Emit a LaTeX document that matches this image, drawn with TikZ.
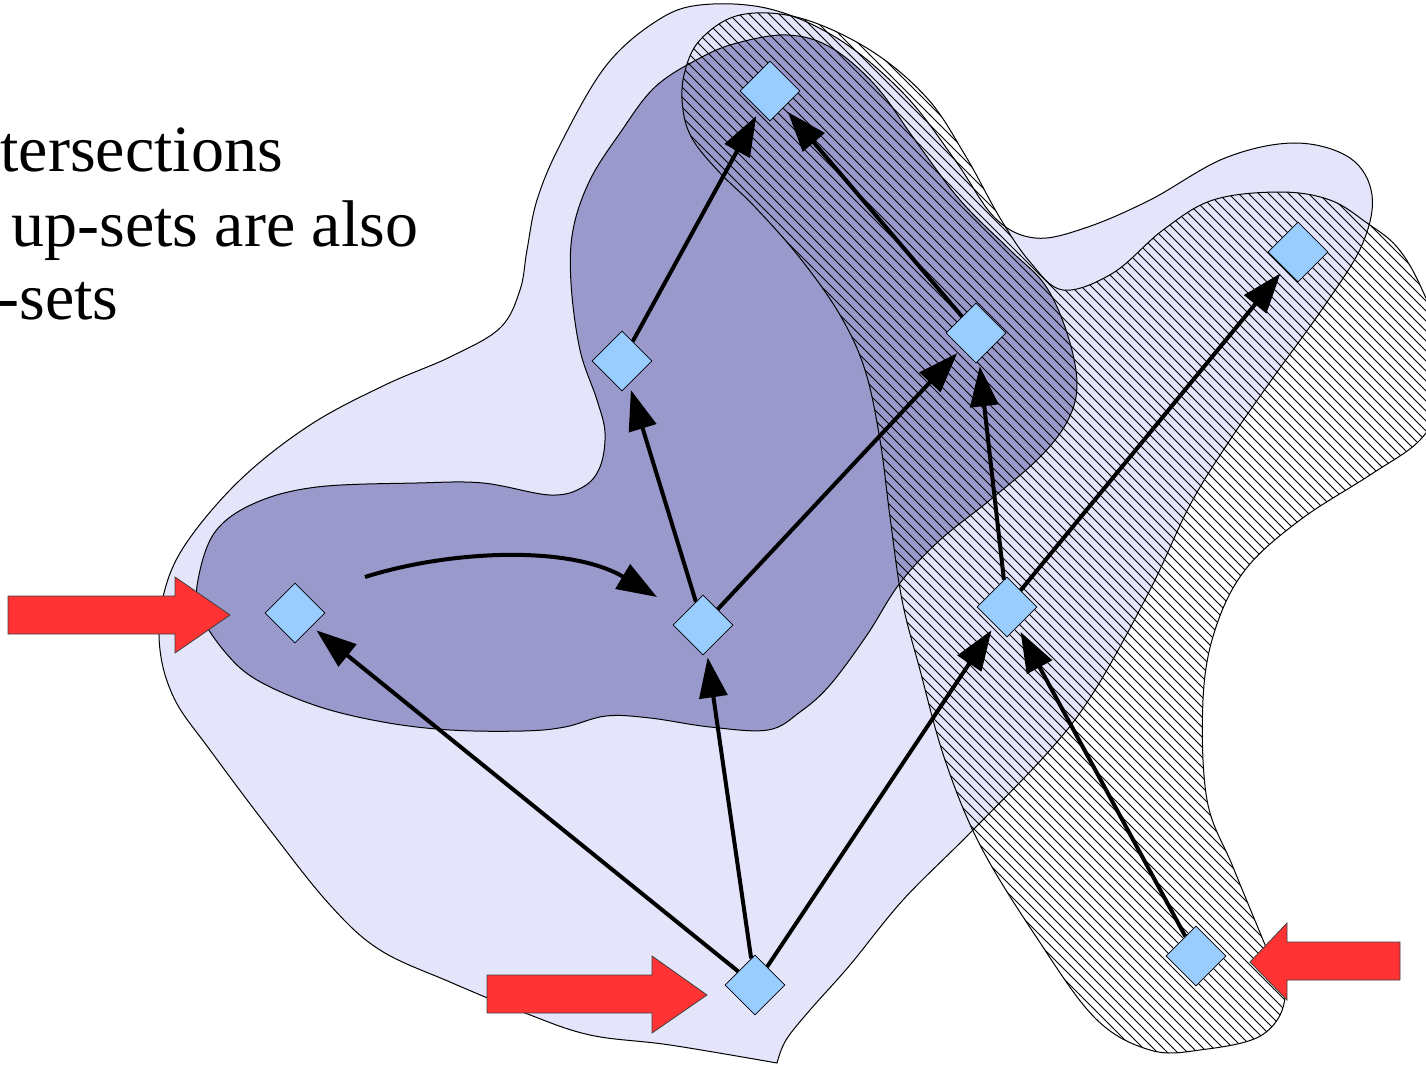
\documentclass[tikz,border=0pt]{standalone}
\usepackage{fontspec}
\setmainfont{Liberation Serif}
\usetikzlibrary{arrows.meta,shapes.geometric,patterns}
\definecolor{lav}{HTML}{E4E4FA}
\definecolor{darkset}{HTML}{9999CC}
\definecolor{nodeblue}{HTML}{99CCFF}
\definecolor{redarr}{HTML}{FF3333}
\pgfdeclarepatternformonly{myhatch}{\pgfqpoint{-1pt}{-1pt}}{\pgfqpoint{6pt}{6pt}}{\pgfqpoint{5pt}{5pt}}{%
  \pgfsetlinewidth{0.4pt}%
  \pgfpathmoveto{\pgfqpoint{0pt}{5pt}}%
  \pgfpathlineto{\pgfqpoint{5.1pt}{-0.1pt}}%
  \pgfusepath{stroke}}
\begin{document}
\begin{tikzpicture}[x=0.5pt,y=-0.5pt,
  blobL/.style={fill=lav, draw=black, line width=0.5pt},
  blobD/.style={fill=darkset, draw=black, line width=0.5pt},
  hatch/.style={pattern=myhatch, draw=black, line width=0.5pt},
  elem/.style={diamond, aspect=1, minimum width=30pt, minimum height=30pt, inner sep=0pt, fill=nodeblue, draw=black, line width=0.4pt},
  edge/.style={line width=2pt, -{Triangle[length=20pt,width=14pt]}, shorten >=3pt},
  redblk/.style={fill=redarr, draw=black!75, line width=0.4pt},
  caption/.style={font=\fontsize{33pt}{38pt}\selectfont, anchor=base west, inner sep=0pt}]
\useasboundingbox (0,0) rectangle (1426,1065);
\clip (0,0) rectangle (1426,1065);

% outer light up-set
\draw[blobL] plot[smooth, tension=0.6] coordinates {
 (777,1063) (786,1040) (810,1010) (850,965)
 (903,900) (970,833) (1050,750) (1095,690) (1150,590) (1190,505) (1230,440)
 (1275,375) (1325,305) (1362,245) (1372,195) (1350,158) (1295,143) (1225,158)
 (1150,200) (1085,228) (1035,238) (995,218) (955,160) (905,95) (840,40)
 (770,9) (700,5) (655,22) (605,67) (560,145) (537,200) (527,250) (520,290)
 (500,328) (450,357) (385,385) (310,425) (240,480) (185,545) (163,597)
 (160,650) (175,700) (210,750) (270,830) (330,905) (380,950) (450,982)
 (525,1013) (590,1035) (670,1045) (777,1063)} -- cycle;

% dark up-set
\draw[blobD] plot[smooth cycle, tension=0.6] coordinates {
 (787,35) (830,47) (875,85) (915,140) (960,200) (1010,250) (1045,285)
 (1067,333) (1077,383) (1068,420) (1040,457) (990,500) (940,540) (900,583)
 (867,635) (830,685) (800,712) (768,730) (710,727) (650,718) (606,716)
 (565,727) (523,731) (450,730) (383,722) (317,706) (257,680) (225,652)
 (200,613) (198,580) (215,532) (255,503) (317,487) (417,483) (483,483)
 (550,495) (583,487) (600,467) (605,433) (597,400) (580,350) (571,283)
 (573,230) (590,180) (620,133) (655,87) (700,58) (737,43)};

% hatched up-set
\draw[hatch] plot[smooth cycle, tension=0.6] coordinates {
 (740,15) (800,18) (870,50) (927,98) (965,155) (1000,218) (1030,262)
 (1063,290) (1113,273) (1163,230) (1213,200) (1280,192) (1330,200)
 (1367,223) (1397,247) (1420,285) (1440,340) (1440,400) (1420,440)
 (1370,475) (1300,520) (1245,570) (1215,630) (1203,700) (1207,800)
 (1233,867) (1263,940) (1285,995) (1262,1035) (1200,1050) (1150,1050)
 (1095,1018) (1035,935) (980,845) (945,760) (920,670) (902,600) (890,517)
 (880,440) (865,370) (840,315) (800,258) (755,207) (720,173) (693,140)
 (683,110) (684,75) (700,40)};

% elements
\node[elem] (n1) at (770,91) {};
\node[elem] (n2) at (622,361) {};
\node[elem] (n3) at (976,333) {};
\node[elem] (n4) at (1298,252) {};
\node[elem] (n5) at (295,613) {};
\node[elem] (n6) at (703,625) {};
\node[elem] (n7) at (1007,607) {};
\node[elem] (n8) at (755,985) {};
\node[elem] (n9) at (1196,956) {};

% order relation
\draw[edge] (n2) -- (n1);
\draw[edge] (n3) -- (n1);
\draw[edge] (n6) -- (n2);
\draw[edge] (n6) -- (n3);
\draw[edge] (n7) -- (n3);
\draw[edge] (n7) -- (n4);
\draw[edge] (n8) -- (n5);
\draw[edge] (n8) -- (n6);
\draw[edge] (n8) -- (n7);
\draw[edge] (n9) -- (n7);
\coordinate (cs) at (365,577);
\coordinate (ce) at (657,597);
\draw[edge, shorten >=0pt] (cs) .. controls (450,550) and (570,545) .. (ce);

% red block arrows
\draw[redblk] (8,596) -- (175,596) -- (175,577) -- (230,615) -- (175,653) -- (175,634) -- (8,634) -- cycle;
\draw[redblk] (487,975) -- (652,975) -- (652,956) -- (707,995) -- (652,1033) -- (652,1013) -- (487,1013) -- cycle;
\draw[redblk] (1400,942) -- (1287,942) -- (1287,923) -- (1250,962) -- (1287,1000) -- (1287,980) -- (1400,980) -- cycle;

% caption
\node[caption] (t1) at (0,172) {tersections};
\node[caption] (t2) at (11,247) {up-sets are also};
\node[caption] (t3) at (-3,320) {-sets};
\end{tikzpicture}
\end{document}
